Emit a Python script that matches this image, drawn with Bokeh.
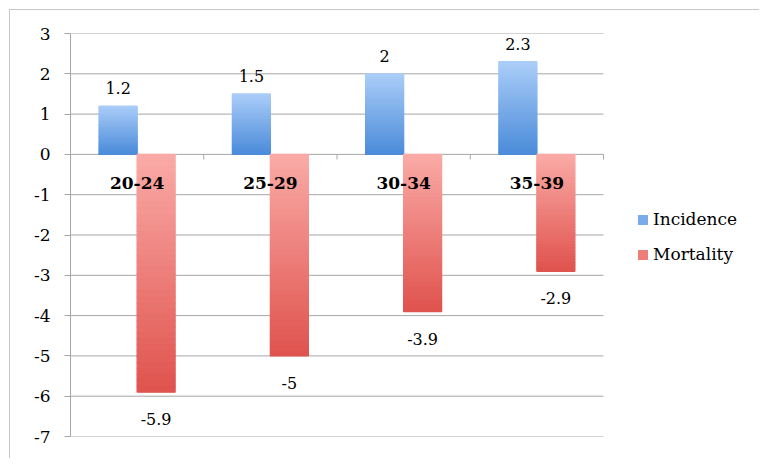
import math
from bokeh.plotting import figure
from bokeh.models import Range1d, FixedTicker, Legend, LegendItem, ColumnDataSource
from bokeh.core.properties import value
from bokeh.embed import file_html
from bokeh.resources import INLINE

# ---- data ----
categories = ["20-24", "25-29", "30-34", "35-39"]
incidence = [1.2, 1.5, 2.0, 2.3]
mortality = [-5.9, -5.0, -3.9, -2.9]
incidence_labels = ["1.2", "1.5", "2", "2.3"]
mortality_labels = ["-5.9", "-5", "-3.9", "-2.9"]
y_ticks = list(range(-7, 4))

FONT = value("DejaVu Serif")
GRID = "#a6a6a6"
BAR_W = 0.285

W, H = 750, 449
LEFT, TOP, BOTTOM, RIGHT = 61, 24, 22, 2
PLOT_W = 533                      # pixel width of the category area
frame_w = W - LEFT - RIGHT
n = len(categories)
x_end = n * frame_w / PLOT_W      # frame extends right to host the legend

centers = [i + 0.5 for i in range(n)]
boundaries = list(range(n + 1))

p = figure(width=W, height=H, output_backend="svg", toolbar_location=None,
           x_range=Range1d(0, x_end), y_range=Range1d(-7, 3),
           x_axis_location=None, min_border_left=LEFT, min_border_right=RIGHT,
           min_border_top=TOP, min_border_bottom=BOTTOM)
p.outline_line_color = None
p.background_fill_color = "white"
p.border_fill_color = "white"
p.styles = {"outline": "1px solid #b5b5b5", "outline-offset": "-1px",
            "margin-left": "9px", "margin-top": "9px"}

p.xgrid.visible = False
p.ygrid.visible = False
# horizontal gridlines only across the category area
p.segment(x0=[0] * len(y_ticks), x1=[n] * len(y_ticks), y0=y_ticks, y1=y_ticks,
          line_color=GRID, line_width=1)

ax = p.yaxis[0]
ax.ticker = FixedTicker(ticks=y_ticks, minor_ticks=[])
ax.major_label_overrides = {t: str(t) for t in y_ticks}
ax.axis_line_color = GRID
ax.major_tick_line_color = GRID
ax.major_tick_out = 6
ax.major_tick_in = 0
ax.minor_tick_line_color = None
ax.major_label_standoff = 14
ax.major_label_text_font = "DejaVu Serif"
ax.major_label_text_font_size = "17px"
ax.major_label_text_color = "black"


def lerp(c0, c1, t):
    return "#%02x%02x%02x" % tuple(int(round(a + (b - a) * t)) for a, b in zip(c0, c1))


NS = 40


def gradient_source(lefts, vals, top_rgb, bot_rgb):
    d = dict(left=[], right=[], top=[], bottom=[], color=[])
    for l, v in zip(lefts, vals):
        hi, lo = max(0, v), min(0, v)
        h = (hi - lo) / NS
        for k in range(NS):
            d["left"].append(l)
            d["right"].append(l + BAR_W)
            d["top"].append(hi - k * h)
            d["bottom"].append(hi - (k + 1) * h)
            d["color"].append(lerp(top_rgb, bot_rgb, k / (NS - 1)))
    return ColumnDataSource(d)


blue_src = gradient_source([c - BAR_W for c in centers], incidence, (170, 205, 248), (76, 140, 218))
red_src = gradient_source(centers, mortality, (250, 170, 166), (224, 84, 79))
blue_r = p.quad(left="left", right="right", top="top", bottom="bottom", source=blue_src,
                fill_color="color", line_color="color", line_width=1.3)
red_r = p.quad(left="left", right="right", top="top", bottom="bottom", source=red_src,
               fill_color="color", line_color="color", line_width=1.3)

# category tick marks on the zero line
p.ray(x=boundaries, y=[0] * len(boundaries), length=5, angle=-math.pi / 2,
      length_units="screen", line_color=GRID, line_width=1)

# category labels
p.text(x=centers, y=[0] * n, text=categories, y_offset=29,
       text_align="center", text_baseline="middle", text_font=FONT,
       text_font_size="17px", text_font_style="bold", text_color="black")

# value labels
p.text(x=[c - BAR_W / 2 for c in centers], y=incidence, text=incidence_labels, y_offset=-18,
       text_align="center", text_baseline="middle", text_font=FONT,
       text_font_size="16px", text_color="black")
p.text(x=[c + BAR_W / 2 for c in centers], y=mortality, text=mortality_labels, y_offset=27,
       text_align="center", text_baseline="middle", text_font=FONT,
       text_font_size="16px", text_color="black")

# legend (swatch taken from the middle slice of each gradient)
legend = Legend(items=[LegendItem(label="Incidence", renderers=[blue_r], index=NS // 2),
                       LegendItem(label="Mortality", renderers=[red_r], index=NS // 2)],
                location=(567, 172), orientation="vertical")
legend.glyph_width = 11
legend.glyph_height = 11
legend.label_height = 20
legend.spacing = 15
legend.padding = 0
legend.margin = 0
legend.label_standoff = 5
legend.label_text_font = "DejaVu Serif"
legend.label_text_font_size = "17px"
legend.label_text_color = "black"
legend.border_line_color = None
legend.background_fill_alpha = 0
p.add_layout(legend)

open("out.html", "w").write(file_html(p, INLINE))
